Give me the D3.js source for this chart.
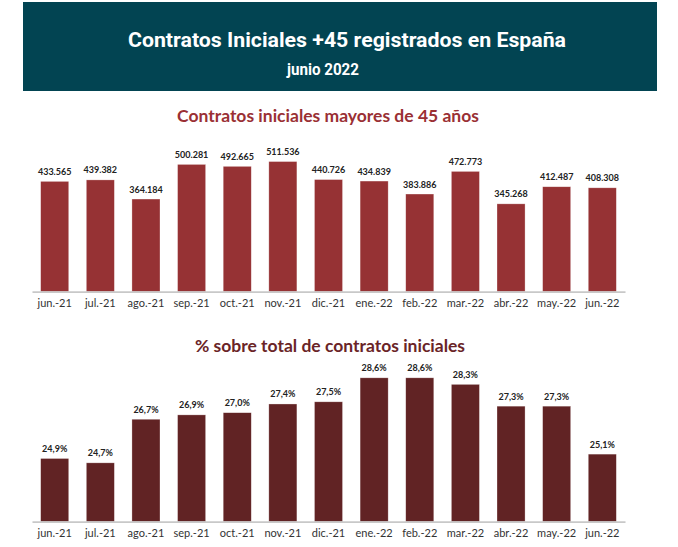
<!DOCTYPE html>
<html><head><meta charset="utf-8">
<script src="https://cdn.jsdelivr.net/npm/d3@7"></script>
<style>body{margin:0;background:#fff}svg{display:block}</style>
</head><body><svg id="c" width="678" height="547"></svg>
<script>
const months = ["jun.-21","jul.-21","ago.-21","sep.-21","oct.-21","nov.-21","dic.-21","ene.-22","feb.-22","mar.-22","abr.-22","may.-22","jun.-22"];
const contratos = [433565,439382,364184,500281,492665,511536,440726,434839,383886,472773,345268,412487,408308];
const porcentaje = [24.9,24.7,26.7,26.9,27.0,27.4,27.5,28.6,28.6,28.3,27.3,27.3,25.1];
const mainTitle = "Contratos Iniciales +45 registrados en España";
const subTitle = "junio 2022";
const title1 = "Contratos iniciales mayores de 45 años";
const title2 = "% sobre total de contratos iniciales";

const svg = d3.select("#c");
svg.append("rect").attr("x",23).attr("y",2).attr("width",634).attr("height",89).attr("fill","#024452");
svg.append("text").attr("x",347).attr("y",47).attr("text-anchor","middle").attr("fill","#fff")
  .attr("font-family","Roboto").attr("font-weight","bold").attr("font-size",20)
  .attr("textLength",438).attr("lengthAdjust","spacingAndGlyphs").text(mainTitle);
svg.append("text").attr("x",323).attr("y",75).attr("text-anchor","middle").attr("fill","#fff")
  .attr("font-family","Roboto").attr("font-weight","bold").attr("font-size",16)
  .attr("textLength",72).attr("lengthAdjust","spacingAndGlyphs").text(subTitle);

const fmtN = d3.formatLocale({decimal:",",thousands:".",grouping:[3],currency:["","€"]}).format(",d");
const fmtP = d => d.toFixed(1).replace(".",",") + "%";

function chart(o){
  const x = d3.scaleBand().domain(months).range([32,625]).paddingInner(0.385).paddingOuter(0.19);
  const y = d3.scaleLinear().domain(o.domain).range([o.base, o.top]);
  const g = svg.append("g");
  g.append("text").attr("x",o.tx).attr("y",o.ty).attr("text-anchor","middle").attr("fill",o.tcolor)
    .attr("font-family","Lato").attr("font-weight","bold").attr("font-size",17.5).text(o.title);
  g.selectAll("rect.b").data(o.values).join("rect").attr("class","b")
    .attr("x",(d,i)=>x(months[i])).attr("width",x.bandwidth())
    .attr("y",d=>y(d)).attr("height",d=>o.base-y(d)).attr("fill",o.color)
    .attr("stroke","#fff").attr("stroke-opacity",0.5).attr("stroke-width",0.6);
  g.selectAll("text.v").data(o.values).join("text").attr("class","v")
    .attr("x",(d,i)=>x(months[i])+x.bandwidth()/2).attr("y",d=>y(d)-o.lab)
    .attr("text-anchor","middle").attr("fill","#222").attr("font-family","Lato")
    .attr("font-weight","bold").attr("font-size",9).text(o.fmt);
  const ax = g.append("g").attr("transform",`translate(0,${o.base})`)
    .call(d3.axisBottom(x).tickSize(0).tickPadding(8));
  ax.select(".domain").attr("stroke","#c8c8c8").attr("stroke-width",1.8);
  ax.selectAll("text").attr("font-family","Lato").attr("font-size",11).attr("fill","#333");
}
chart({values:contratos, domain:[0,600000], base:291.7, top:291.7-600000/3930, color:"#963234",
  title:title1, tx:328, ty:122, tcolor:"#9a3034", fmt:fmtN, lab:6.5});
chart({values:porcentaje, domain:[22,30], base:521.7, top:521.7-8*21.8, color:"#612324",
  title:title2, tx:330, ty:352, tcolor:"#6a2427", fmt:fmtP, lab:6.5});
</script></body></html>
